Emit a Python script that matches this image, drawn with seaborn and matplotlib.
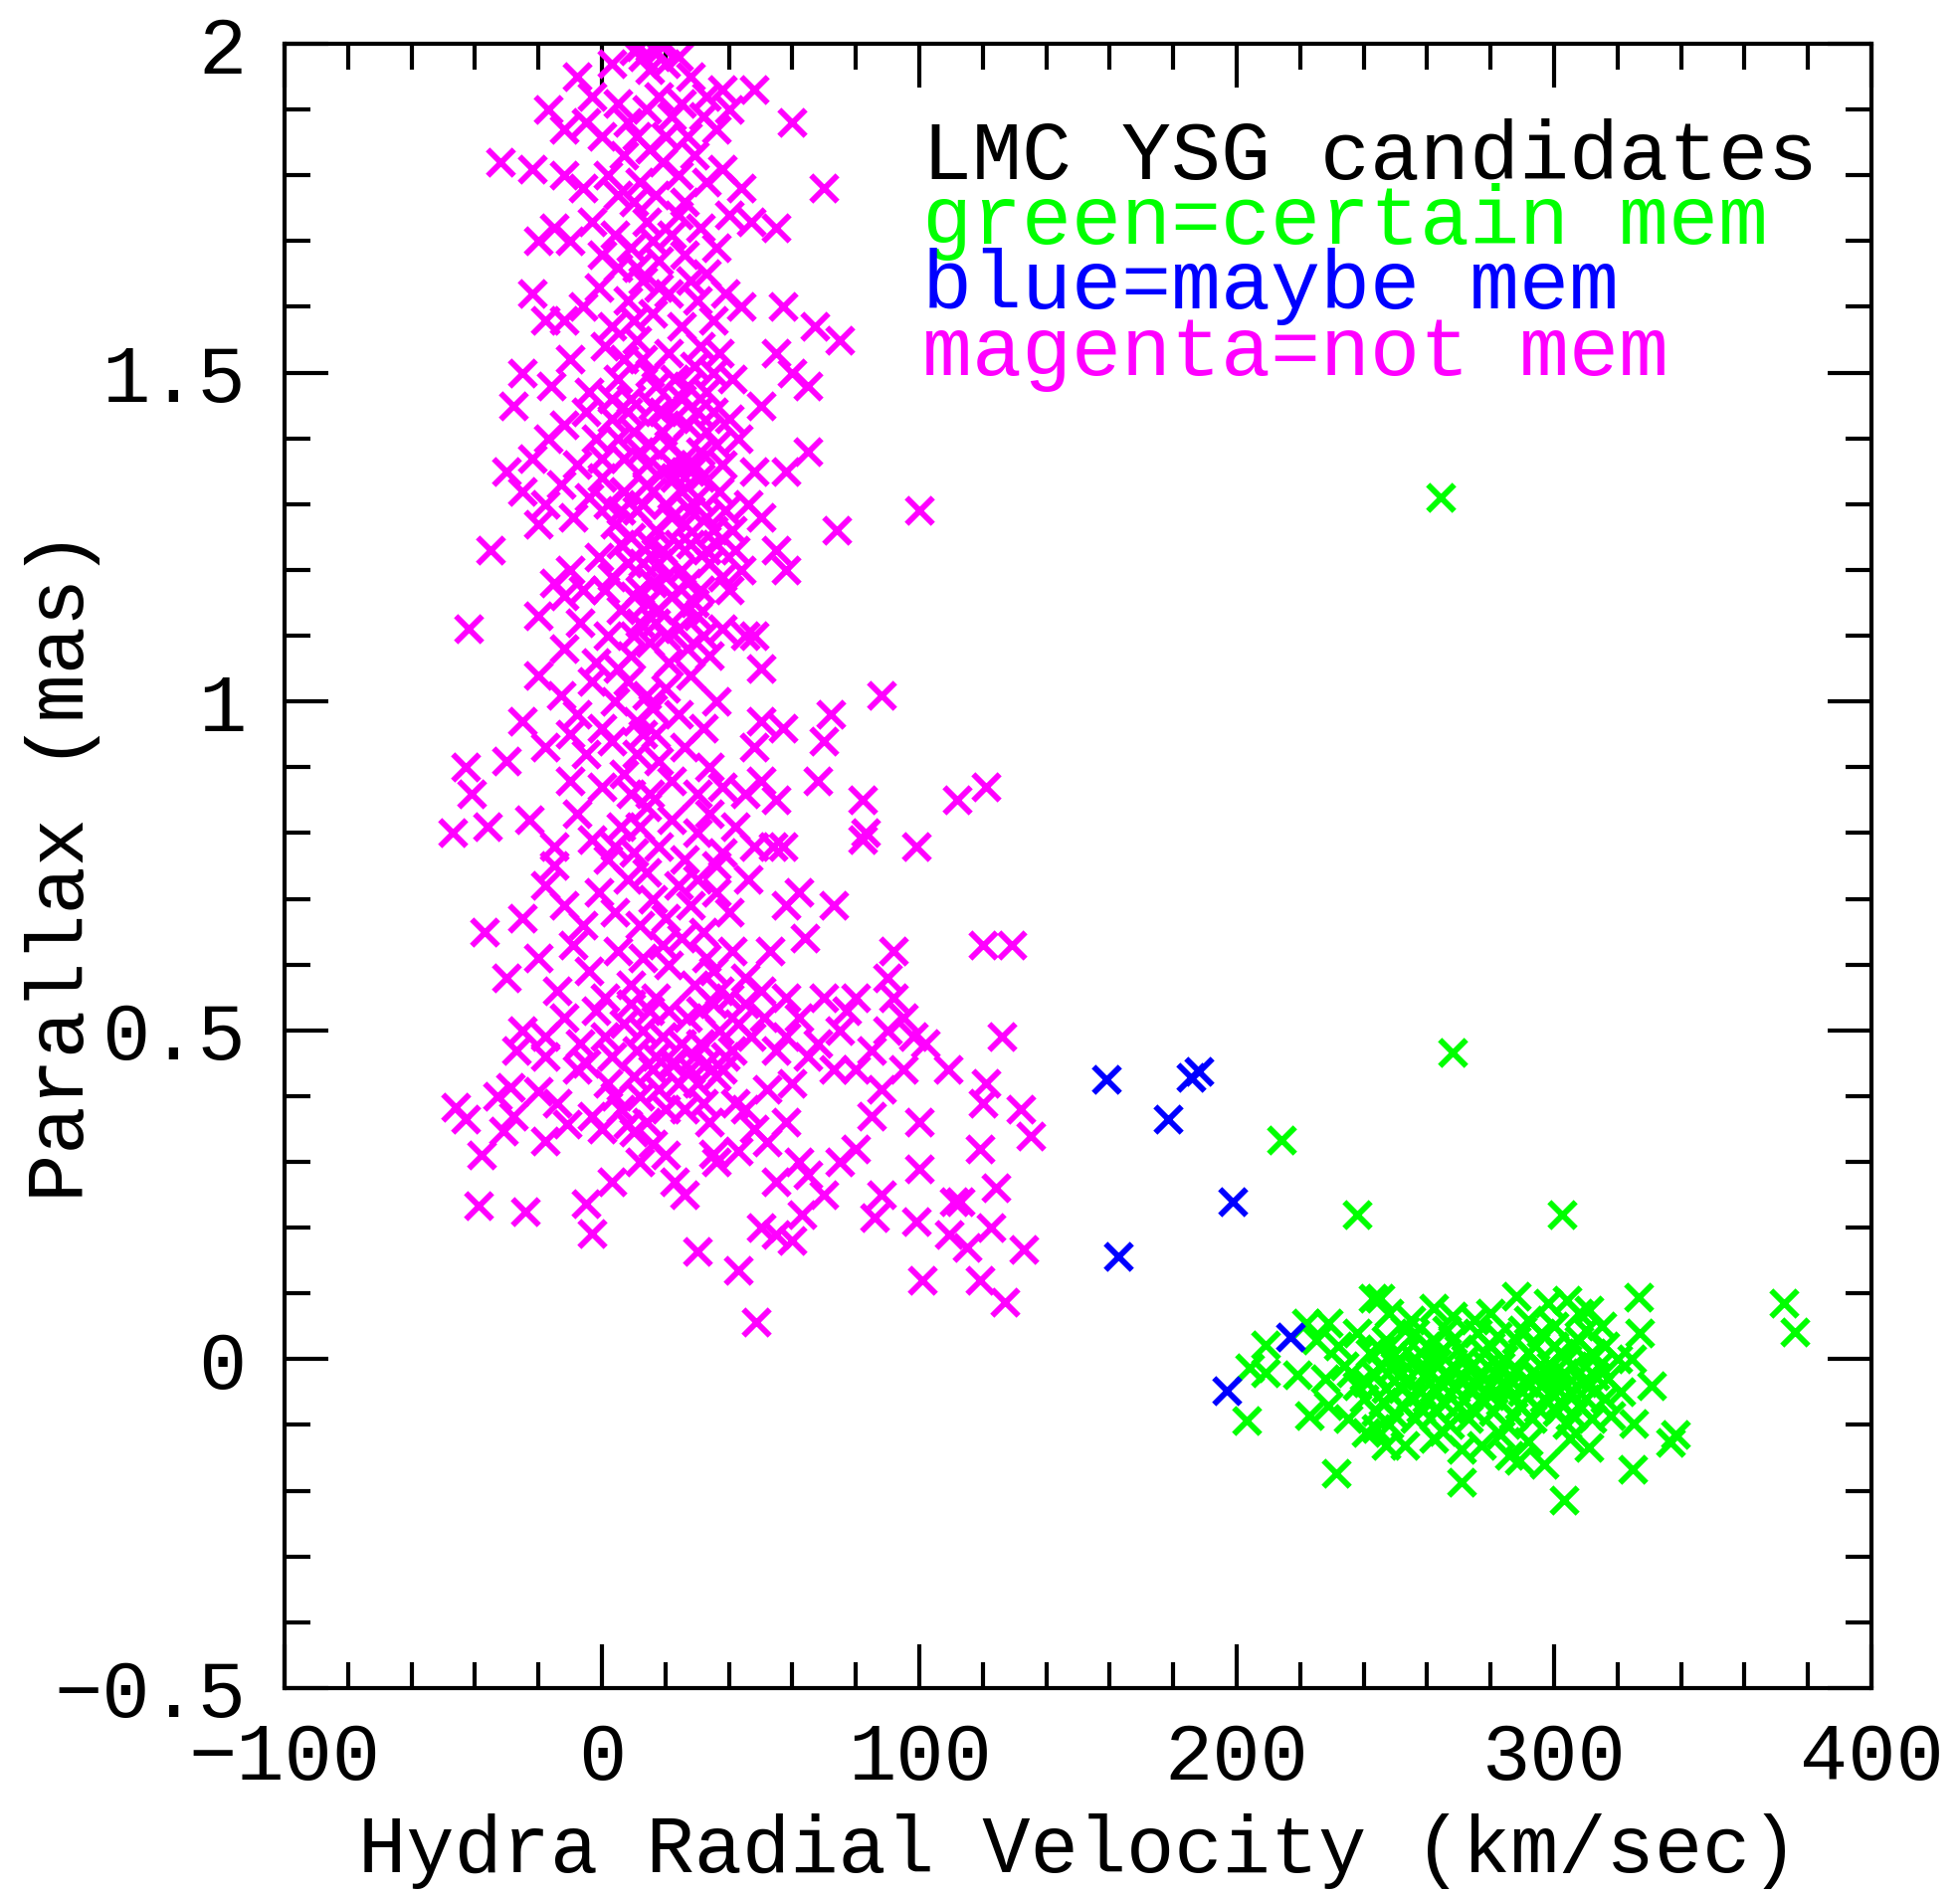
import matplotlib
matplotlib.use("Agg")
import matplotlib.pyplot as plt
import seaborn as sns
import pandas as pd
from matplotlib.ticker import MultipleLocator, FixedLocator

# ---------------- data ----------------
magenta_pts = [
    # y ~ 1.95-2.0
    (-8, 1.95), (3, 1.97), (10, 1.99), (13, 1.98), (17, 1.99), (20, 1.97), (24, 1.98), (15, 1.96),
    (28, 1.95), (33, 1.92), (38, 1.93), (48, 1.93), (12, 1.995), (19, 1.995),
    # 1.85-1.95
    (-17, 1.90), (-12, 1.87), (-5, 1.88), (0, 1.86), (5, 1.91), (8, 1.88), (14, 1.90), (18, 1.92),
    (22, 1.89), (27, 1.86), (32, 1.89), (36, 1.87), (40, 1.90), (60, 1.88), (-3, 1.92),
    (20, 1.86), (25, 1.91), (11, 1.86),
    # 1.75-1.85
    (-32, 1.82), (-22, 1.81), (-12, 1.80), (-6, 1.78), (2, 1.80), (7, 1.83), (12, 1.79), (15, 1.84),
    (19, 1.82), (24, 1.80), (29, 1.83), (33, 1.79), (38, 1.81), (44, 1.78), (70, 1.78), (10, 1.76),
    (17, 1.77), (26, 1.76), (5, 1.77),
    # 1.65-1.75
    (-20, 1.70), (-15, 1.72), (-10, 1.70), (-3, 1.73), (0, 1.68), (4, 1.71), (9, 1.69), (14, 1.73),
    (18, 1.67), (22, 1.71), (26, 1.68), (31, 1.72), (36, 1.69), (40, 1.74), (47, 1.73), (55, 1.72), (5, 1.66),
    (16, 1.70), (24, 1.74), (11, 1.66),
    # 1.55-1.65
    (-22, 1.62), (-18, 1.58), (-12, 1.58), (-6, 1.60), (-1, 1.63), (3, 1.57), (8, 1.61), (13, 1.64),
    (16, 1.59), (21, 1.62), (25, 1.57), (30, 1.61), (35, 1.58), (39, 1.62), (44, 1.60), (57, 1.60),
    (67, 1.57), (75, 1.55), (28, 1.64), (18, 1.63), (10, 1.58), (33, 1.65),
    # 1.45-1.55
    (-25, 1.50), (-28, 1.45), (-16, 1.48), (-10, 1.52), (-4, 1.47), (1, 1.54), (5, 1.49), (9, 1.46),
    (13, 1.52), (17, 1.48), (21, 1.53), (25, 1.46), (29, 1.51), (33, 1.47), (37, 1.53), (41, 1.49),
    (50, 1.45), (55, 1.53), (60, 1.50), (65, 1.48), (11, 1.55), (19, 1.44), (15, 1.50), (23, 1.49),
    (31, 1.54), (7, 1.52), (27, 1.48), (35, 1.50), (3, 1.46),
    # 1.35-1.45
    (-17, 1.40), (-30, 1.35), (-22, 1.37), (-12, 1.42), (-8, 1.36), (-2, 1.40), (3, 1.43), (7, 1.37),
    (10, 1.41), (14, 1.36), (18, 1.44), (21, 1.39), (24, 1.35), (27, 1.42), (31, 1.38), (35, 1.44),
    (38, 1.36), (43, 1.40), (48, 1.35), (58, 1.35), (65, 1.38), (16, 1.45), (29, 1.36), (5, 1.40),
    (12, 1.38), (19, 1.41), (23, 1.43), (26, 1.37), (33, 1.41), (8, 1.44), (-5, 1.44),
    (15, 1.39), (22, 1.36), (30, 1.44), (36, 1.39), (40, 1.43), (0, 1.37),
    # 1.25-1.35
    (-25, 1.32), (-18, 1.30), (-13, 1.33), (-9, 1.28), (-4, 1.31), (0, 1.34), (4, 1.27), (7, 1.32),
    (11, 1.29), (14, 1.33), (17, 1.26), (20, 1.30), (23, 1.34), (26, 1.27), (30, 1.31), (33, 1.28),
    (37, 1.32), (41, 1.26), (46, 1.30), (50, 1.28), (74, 1.26), (100, 1.29), (19, 1.35), (9, 1.25),
    (28, 1.35), (13, 1.30), (22, 1.28), (25, 1.32), (35, 1.26), (-20, 1.27), (2, 1.30),
    (16, 1.32), (31, 1.34), (39, 1.29), (6, 1.29), (28, 1.29),
    # 1.15-1.25
    (-35, 1.23), (-15, 1.18), (-10, 1.20), (-6, 1.17), (-1, 1.22), (3, 1.19), (6, 1.24), (10, 1.16),
    (13, 1.21), (16, 1.18), (19, 1.23), (22, 1.16), (25, 1.20), (28, 1.24), (31, 1.17), (34, 1.21),
    (38, 1.19), (42, 1.23), (55, 1.23), (58, 1.20), (8, 1.21), (20, 1.19), (29, 1.15), (15, 1.24),
    (24, 1.24), (12, 1.17), (36, 1.24), (-12, 1.16), (18, 1.21), (27, 1.18), (33, 1.23), (40, 1.17),
    (44, 1.20), (1, 1.17),
    # 1.05-1.15
    (-42, 1.11), (-20, 1.13), (-12, 1.08), (-7, 1.12), (-2, 1.06), (2, 1.10), (6, 1.14), (9, 1.07),
    (12, 1.12), (15, 1.09), (18, 1.14), (21, 1.06), (24, 1.11), (27, 1.08), (30, 1.13), (34, 1.07),
    (38, 1.11), (45, 1.10), (48, 1.10), (50, 1.05), (14, 1.15), (5, 1.05), (20, 1.10), (26, 1.14),
    (17, 1.12), (32, 1.10), (10, 1.10),
    # 0.95-1.05
    (-20, 1.04), (-25, 0.97), (-13, 1.01), (-8, 0.98), (-3, 1.03), (0, 0.96), (4, 1.00), (8, 1.03),
    (11, 0.97), (14, 1.01), (17, 0.95), (20, 1.02), (24, 0.98), (28, 1.04), (32, 0.96), (36, 1.00),
    (50, 0.97), (57, 0.96), (72, 0.98), (88, 1.01), (16, 0.99), (-10, 0.95),
    # 0.85-0.95
    (-43, 0.90), (-41, 0.86), (-30, 0.91), (-18, 0.93), (-10, 0.88), (-5, 0.92), (0, 0.87), (3, 0.94),
    (7, 0.89), (11, 0.92), (15, 0.86), (18, 0.91), (22, 0.88), (26, 0.93), (30, 0.86), (34, 0.90),
    (38, 0.87), (45, 0.86), (48, 0.93), (55, 0.85), (70, 0.94), (68, 0.88), (82, 0.85), (112, 0.85),
    (121, 0.87), (50, 0.88), (9, 0.86), (13, 0.95),
    # 0.75-0.85
    (-47, 0.80), (-36, 0.81), (-23, 0.82), (-15, 0.78), (-8, 0.83), (-3, 0.79), (2, 0.76), (6, 0.81),
    (10, 0.77), (14, 0.84), (18, 0.78), (22, 0.82), (26, 0.76), (30, 0.80), (34, 0.83), (38, 0.77),
    (42, 0.81), (48, 0.78), (54, 0.78), (57, 0.78), (83, 0.80), (82, 0.79), (99, 0.78), (36, 0.75),
    (4, 0.78), (12, 0.81),
    # 0.65-0.75
    (-15, 0.75), (-37, 0.65), (-25, 0.67), (-18, 0.72), (-12, 0.69), (-6, 0.66), (-1, 0.71), (4, 0.68),
    (8, 0.73), (12, 0.66), (16, 0.70), (20, 0.67), (24, 0.72), (28, 0.69), (32, 0.65), (36, 0.71),
    (40, 0.68), (46, 0.73), (58, 0.69), (62, 0.71), (64, 0.64), (73, 0.69), (14, 0.74), (30, 0.73),
    # 0.55-0.65
    (-30, 0.58), (-20, 0.61), (-14, 0.56), (-9, 0.63), (-4, 0.59), (1, 0.55), (5, 0.62), (9, 0.57),
    (13, 0.61), (17, 0.55), (21, 0.60), (25, 0.64), (29, 0.57), (33, 0.61), (37, 0.56), (41, 0.62),
    (45, 0.58), (50, 0.56), (53, 0.62), (58, 0.55), (70, 0.55), (80, 0.55), (90, 0.58), (92, 0.62),
    (92, 0.55), (120, 0.63), (129, 0.63), (35, 0.59), (19, 0.63), (40, 0.55),
    # 0.45-0.55
    (-27, 0.47), (-18, 0.49), (-25, 0.50), (-18, 0.46), (-12, 0.52), (-7, 0.48), (-2, 0.53), (3, 0.46),
    (7, 0.51), (11, 0.47), (15, 0.53), (19, 0.49), (23, 0.45), (27, 0.52), (31, 0.48), (35, 0.54),
    (39, 0.46), (43, 0.51), (47, 0.49), (55, 0.47), (62, 0.52), (68, 0.48), (75, 0.50), (77, 0.53),
    (85, 0.47), (90, 0.50), (95, 0.52), (98, 0.49), (102, 0.48), (126, 0.49), (65, 0.46),
    (25, 0.48), (33, 0.45), (37, 0.50), (41, 0.47), (45, 0.54), (13, 0.50), (21, 0.53), (29, 0.46),
    (51, 0.52), (58, 0.49), (17, 0.46), (9, 0.54), (1, 0.49), (-5, 0.45), (31, 0.53),
    # 0.35-0.45
    (-46, 0.383), (-43, 0.365), (-33, 0.40), (-29, 0.413), (-20, 0.407), (-28, 0.37), (-14, 0.39),
    (-8, 0.44), (-3, 0.37), (2, 0.42), (6, 0.38), (10, 0.43), (14, 0.36), (18, 0.41), (22, 0.45),
    (26, 0.38), (30, 0.42), (34, 0.36), (38, 0.44), (42, 0.39), (48, 0.35), (45, 0.38), (52, 0.41),
    (58, 0.36), (60, 0.42), (73, 0.44), (80, 0.44), (88, 0.41), (95, 0.44), (100, 0.36), (109, 0.44),
    (120, 0.39), (121, 0.42), (132, 0.38), (85, 0.37), (-11, 0.358), (8, 0.358), (24, 0.42),
    (32, 0.39), (36, 0.43), (16, 0.44), (4, 0.40), (20, 0.38), (12, 0.40), (28, 0.44),
    # 0.25-0.35
    (-38, 0.31), (-31, 0.347), (-18, 0.332), (16, 0.327), (35, 0.312), (43, 0.317), (3, 0.27),
    (12, 0.30), (20, 0.31), (23, 0.27), (26, 0.25), (36, 0.30), (52, 0.33), (55, 0.27), (62, 0.30),
    (65, 0.28), (70, 0.25), (75, 0.30), (80, 0.32), (88, 0.25), (100, 0.29), (119, 0.32), (124, 0.26),
    (135, 0.34), (10, 0.345), (0, 0.35),
    # below 0.25
    (-39, 0.234), (-24, 0.224), (-5, 0.236), (-3, 0.191), (30, 0.164), (43, 0.135), (48.5, 0.057),
    (50, 0.20), (55, 0.19), (60, 0.18), (63, 0.22), (86, 0.215), (99, 0.21), (101, 0.12), (111, 0.24),
    (113, 0.24), (109.5, 0.19), (115, 0.17), (119, 0.12), (127, 0.087), (122.5, 0.20), (133, 0.167),
]

green_pts = [
    # outliers
    (264.4, 1.311), (268, 0.467), (214, 0.333), (237.8, 0.22), (302.6, 0.22), (372.5, 0.085), (376, 0.041),
    # 0.05-0.10
    (222, 0.055), (229, 0.055), (243, 0.093), (245, 0.093), (248, 0.07), (255, 0.06), (262, 0.078),
    (268, 0.065), (275, 0.06), (280, 0.07), (288, 0.096), (292, 0.06), (298, 0.085), (304, 0.09),
    (308, 0.07), (311, 0.075), (315, 0.05), (326.6, 0.094), (327, 0.04),
    # 0.0-0.05
    (209, 0.022), (225, 0.03), (232, 0.02), (238, 0.04), (242, 0.01), (247, 0.03), (251, 0.0),
    (256, 0.04), (260, 0.02), (264, 0.01), (268, 0.03), (272, 0.0), (276, 0.04), (280, 0.02),
    (284, 0.0), (288, 0.03), (292, 0.01), (296, 0.04), (300, 0.02), (304, 0.0), (308, 0.03),
    (312, 0.01), (316, 0.02), (320, 0.0), (324.5, 0.0), (253, 0.045), (300, 0.05),
    (245, 0.015), (258, 0.01), (266, 0.045), (278, 0.01), (290, 0.045), (302, 0.01), (310, 0.045),
    (249, 0.005), (262, 0.03), (270, 0.015), (282, 0.035), (294, 0.02), (306, 0.02),
    # -0.05-0.0
    (204, -0.013), (209, -0.02), (219, -0.024), (228, -0.03), (234, -0.01), (238, -0.04), (243, -0.02),
    (247, -0.045), (250, -0.01), (254, -0.03), (258, -0.05), (261, -0.02), (265, -0.04), (268, -0.01),
    (271, -0.03), (274, -0.05), (277, -0.02), (280, -0.04), (283, -0.01), (286, -0.03), (290, -0.05),
    (293, -0.02), (296, -0.04), (299, -0.01), (302, -0.03), (305, -0.05), (308, -0.02), (311, -0.04),
    (314, -0.01), (317, -0.03), (321, -0.05), (330.7, -0.04), (256, 0.0), (262, -0.045),
    (236, -0.02), (241, -0.035), (252, -0.045), (259, -0.025), (263, -0.005), (275, -0.035),
    (282, -0.025), (288, -0.015), (295, -0.025), (301, -0.045), (306, -0.01), (313, -0.025),
    (245, -0.01), (251, -0.025), (257, -0.015), (266, -0.025), (269, -0.045), (273, -0.015),
    (279, -0.01), (285, -0.045), (291, -0.035), (297, -0.015), (303, -0.02), (309, -0.035),
    # -0.1 to -0.05
    (223, -0.086), (229, -0.07), (235, -0.09), (240, -0.06), (244, -0.08), (248, -0.10), (252, -0.07),
    (256, -0.09), (260, -0.06), (263, -0.08), (267, -0.10), (270, -0.07), (273, -0.09), (277, -0.06),
    (281, -0.08), (285, -0.10), (289, -0.07), (293, -0.09), (297, -0.06), (301, -0.08), (304, -0.10),
    (308, -0.07), (312, -0.09), (316, -0.06), (318, -0.086), (325, -0.098), (203, -0.093),
    (255, -0.055), (280, -0.055), (300, -0.055), (250, -0.085), (265, -0.065), (283, -0.065),
    (295, -0.075), (306, -0.085), (310, -0.06), (246, -0.065), (258, -0.075), (274, -0.075),
    (287, -0.085), (302, -0.065),
    # below -0.1
    (231.3, -0.173), (240.7, -0.111), (247, -0.131), (253, -0.131), (262, -0.12), (271, -0.137),
    (271, -0.187), (277, -0.131), (283, -0.115), (286, -0.146), (289, -0.154), (297, -0.16),
    (303, -0.214), (305, -0.12), (311, -0.134), (336.7, -0.126), (338.3, -0.114), (324.8, -0.167),
    (265, -0.11), (292, -0.125), (244, -0.105),
]

blue_pts = [
    (158.9, 0.426), (162.7, 0.157), (178.4, 0.365), (185.6, 0.429), (188.1, 0.438),
    (198.7, 0.240), (196.9, -0.048), (216.9, 0.034),
]

x_ticks = [-100, 0, 100, 200, 300, 400]
x_tick_labels = ["\u2212100", "0", "100", "200", "300", "400"]
y_ticks = [-0.5, 0, 0.5, 1, 1.5, 2]
y_tick_labels = ["\u22120.5", "0", "0.5", "1", "1.5", "2"]

legend_lines = ["LMC YSG candidates", "green=certain mem", "blue=maybe mem", "magenta=not mem"]
legend_colors = ["black", "#00FF00", "#0000FF", "#FF00FF"]

# ---------------- plotting ----------------
sns.set_style("white")
plt.rcParams["font.family"] = ["Liberation Mono", "DejaVu Sans"]
plt.rcParams["text.color"] = "black"
plt.rcParams["axes.labelcolor"] = "black"
plt.rcParams["xtick.color"] = "black"
plt.rcParams["ytick.color"] = "black"

fig = plt.figure(figsize=(19.70, 19.05), dpi=100)
ax = fig.add_axes([0.1452, 0.1092, 0.8096, 0.8677])

def to_df(pts):
    return pd.DataFrame(pts, columns=["vel", "plx"])

ms = 19
lw = 4.2
for pts, col in [(magenta_pts, "#FF00FF"), (green_pts, "#00FF00"), (blue_pts, "#0000FF")]:
    sns.scatterplot(data=to_df(pts), x="vel", y="plx", ax=ax, marker="x", color=col,
                    s=ms ** 2, linewidth=lw, legend=False, clip_on=True)

ax.set_xlim(-100, 400)
ax.set_ylim(-0.5, 2)

ax.xaxis.set_major_locator(FixedLocator(x_ticks))
ax.set_xticklabels(x_tick_labels)
ax.yaxis.set_major_locator(FixedLocator(y_ticks))
ax.set_yticklabels(y_tick_labels)
ax.xaxis.set_minor_locator(MultipleLocator(20))
ax.yaxis.set_minor_locator(MultipleLocator(0.1))

ax.tick_params(which="both", direction="in", top=True, right=True, bottom=True, left=True,
               width=3.0, color="black")
ax.tick_params(which="major", length=32)
ax.tick_params(which="minor", length=19)
ax.tick_params(axis="x", which="major", labelsize=58, pad=24)
ax.tick_params(axis="y", which="major", labelsize=58, pad=28)

for sp in ax.spines.values():
    sp.set_linewidth(3.0)
    sp.set_color("black")

ax.set_xlabel("Hydra Radial Velocity (km/sec)", fontsize=58, labelpad=12)
ax.set_ylabel("Parallax (mas)", fontsize=58, ha="center", va="center")
ax.yaxis.set_label_coords(-0.14, 0.5)

ys = [1.795, 1.696, 1.597, 1.497]
for txt, col, yv in zip(legend_lines, legend_colors, ys):
    ax.text(101, yv, txt, color=col, fontsize=60, ha="left", va="baseline")

fig.savefig("out.png", dpi=100, facecolor="white")
